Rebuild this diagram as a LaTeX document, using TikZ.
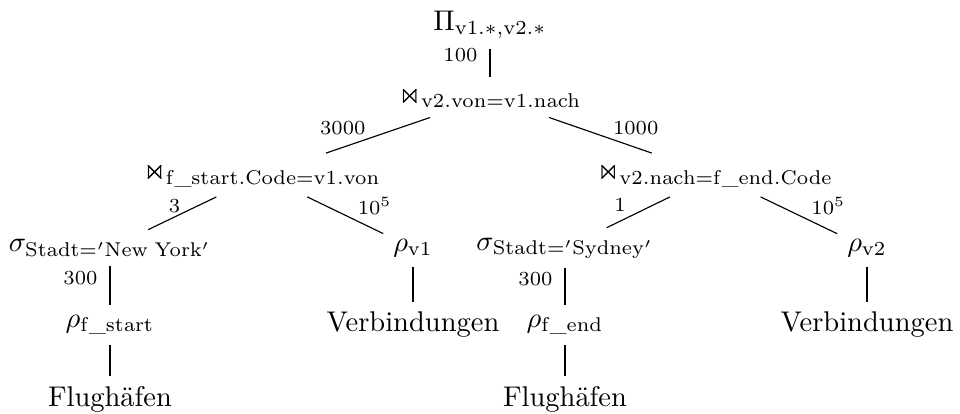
\documentclass[tikz,border=0pt]{standalone}
\usepackage{amsmath,amssymb}
\usetikzlibrary{positioning}
\tikzset{
  op/.style={inner sep=.3333em},
  lbl/.style={font=\scriptsize, inner sep=0pt},
  lbll/.style={lbl, midway, anchor=south east, xshift=-4.2pt},
  lblr/.style={lbl, midway, anchor=south west, xshift=4.2pt},
}
\newcommand{\jn}[1]{\Join_{\mathrm{#1}}}

\begin{document}
\begin{tikzpicture}[x=0.351pt, y=-0.351pt]
  \useasboundingbox (0,0) rectangle (960,414);
  % Operatoren
  \node[op] (proj) at (490,25) {$\Pi_{\mathrm{v1.*,v2.*}}$};
  \node[op] (j1) at (490,97) {$\jn{v2.von=v1.nach}$};
  \node[op] (j2) at (262,175) {$\jn{f\_start.Code=v1.von}$};
  \node[op] (j3) at (715,175) {$\jn{v2.nach=f\_end.Code}$};
  \node[op] (selny) at (110,248) {$\sigma_{\mathrm{Stadt='New\;York'}}$};
  \node[op] (rv1) at (413,248) {$\rho_{\mathrm{v1}}$};
  \node[op] (selsyd) at (565,248) {$\sigma_{\mathrm{Stadt='Sydney'}}$};
  \node[op] (rv2) at (867,248) {$\rho_{\mathrm{v2}}$};
  \node[op] (rfstart) at (110,325) {$\rho_{\mathrm{f\_start}}$};
  \node[op] (verbl) at (413,325) {Verbindungen};
  \node[op] (rfend) at (565,325) {$\rho_{\mathrm{f\_end}}$};
  \node[op] (verbr) at (867,325) {Verbindungen};
  \node[op] (flughl) at (110,399) {Flughäfen};
  \node[op] (flughr) at (565,399) {Flughäfen};
  % Kanten mit Kardinalitaeten
  \draw (proj) -- node[lbll] {100} (j1);
  \draw (j1) -- node[lbll] {3000} (j2);
  \draw (j1) -- node[lblr] {1000} (j3);
  \draw (j2) -- node[lbll, xshift=3.7pt] {3} (selny);
  \draw (j2) -- node[lblr] {$10^5$} (rv1);
  \draw (j3) -- node[lbll] {1} (selsyd);
  \draw (j3) -- node[lblr] {$10^5$} (rv2);
  \draw (selny) -- node[lbll] {300} (rfstart);
  \draw (selsyd) -- node[lbll] {300} (rfend);
  \draw (rv1) -- (verbl);
  \draw (rv2) -- (verbr);
  \draw (rfstart) -- (flughl);
  \draw (rfend) -- (flughr);
\end{tikzpicture}
\end{document}
